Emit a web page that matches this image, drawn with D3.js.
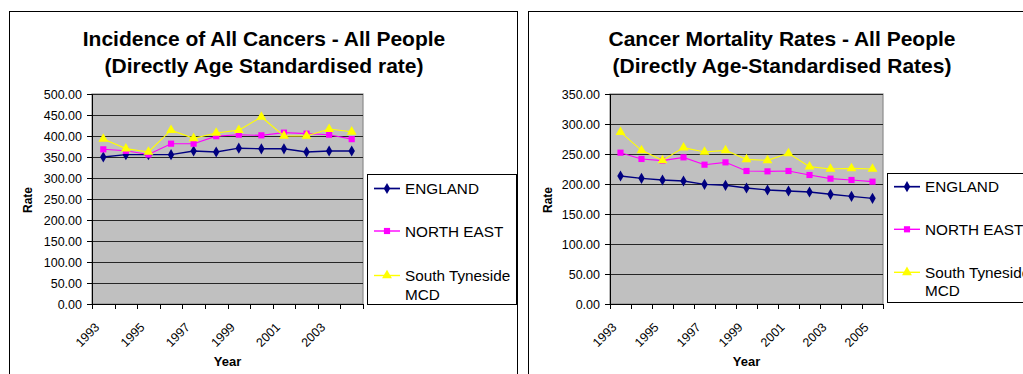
<!DOCTYPE html>
<html>
<head>
<meta charset="utf-8">
<script src="https://cdn.jsdelivr.net/npm/d3@7"></script>
<style>
  html, body { margin: 0; padding: 0; background: #fff; }
  svg { display: block; font-family: "Liberation Sans", Arial, sans-serif; }
</style>
</head>
<body>
<svg id="chart" width="1023" height="374"></svg>
<script>
// Incidence of all cancers, directly age-standardised rate
const incidenceYears = [1993, 1994, 1995, 1996, 1997, 1998, 1999, 2000, 2001, 2002, 2003, 2004];
const incidenceEngland = [350.0, 355.6, 355.6, 355.6, 364.3, 361.9, 371.0, 369.5, 369.5, 361.9, 364.3, 364.3];
const incidenceNorthEast = [368.3, 364.7, 356.0, 381.7, 381.7, 399.6, 403.1, 401.6, 408.0, 405.6, 403.1, 392.5];
const incidenceSouthTyneside = [393.0, 370.0, 362.0, 414.0, 394.5, 407.1, 414.0, 445.2, 400.0, 400.0, 416.5, 410.0];
const incidenceTicks = [0, 50, 100, 150, 200, 250, 300, 350, 400, 450, 500];
const incidenceYearLabels = [1993, 1995, 1997, 1999, 2001, 2003];

// Cancer mortality, directly age-standardised rates
const mortalityYears = [1993, 1994, 1995, 1996, 1997, 1998, 1999, 2000, 2001, 2002, 2003, 2004, 2005];
const mortalityEngland = [213.3, 209.4, 206.7, 205.0, 199.4, 197.8, 193.3, 190.0, 188.3, 186.7, 182.8, 179.4, 176.1];
const mortalityNorthEast = [252.2, 241.7, 238.9, 244.4, 232.2, 236.1, 221.7, 221.1, 221.7, 215.0, 208.9, 206.7, 203.9];
const mortalitySouthTyneside = [286.4, 256.1, 239.4, 260.6, 253.3, 256.1, 241.1, 239.4, 251.1, 228.9, 225.0, 226.1, 225.0];
const mortalityTicks = [0, 50, 100, 150, 200, 250, 300, 350];
const mortalityYearLabels = [1993, 1995, 1997, 1999, 2001, 2003, 2005];

const seriesNames = ["ENGLAND", "NORTH EAST", "South Tyneside MCD"];

const svg = d3.select("#chart");

const seriesStyle = [
  { color: "#000080", width: 1.4, symbol: d3.symbolDiamond, size: 36 },
  { color: "#FF00FF", width: 1.1, symbol: d3.symbolSquare, size: 38 },
  { color: "#FFFF00", width: 1.1, symbol: d3.symbolTriangle, size: 42 }
];

function drawChart(cfg) {
  const g = svg.append("g");

  // outer chart frame
  g.append("rect")
    .attr("x", cfg.frame.x + 0.5).attr("y", cfg.frame.y + 0.5)
    .attr("width", cfg.frame.w).attr("height", cfg.frame.h)
    .attr("fill", "#fff").attr("stroke", "#000").attr("stroke-width", 1);

  // title
  const title = g.append("text")
    .attr("text-anchor", "middle")
    .attr("font-size", "21px").attr("font-weight", "bold").attr("fill", "#000");
  cfg.title.forEach((line, i) => {
    title.append("tspan").attr("x", cfg.titleX).attr("y", 46 + i * 26.7).text(line);
  });

  const x = d3.scaleBand().domain(cfg.years).range([cfg.plot.left, cfg.plot.right]);
  const y = d3.scaleLinear().domain([0, cfg.yMax]).range([cfg.plot.bottom, cfg.plot.top]);

  // plot background
  g.append("rect")
    .attr("x", cfg.plot.left).attr("y", cfg.plot.top)
    .attr("width", cfg.plot.right - cfg.plot.left)
    .attr("height", cfg.plot.bottom - cfg.plot.top)
    .attr("fill", "#C0C0C0").attr("stroke", "#8c8c8c").attr("stroke-width", 1.2);

  // horizontal gridlines
  g.append("g").selectAll("line")
    .data(cfg.ticks.filter(t => t > 0))
    .join("line")
    .attr("x1", cfg.plot.left).attr("x2", cfg.plot.right)
    .attr("y1", d => Math.round(y(d)) + 0.5).attr("y2", d => Math.round(y(d)) + 0.5)
    .attr("stroke", "#262626").attr("stroke-width", 1.2);

  // y axis
  const yAxis = g.append("g")
    .attr("transform", `translate(${cfg.plot.left},0)`)
    .call(d3.axisLeft(y).tickValues(cfg.ticks).tickFormat(d3.format(".2f")).tickSize(5).tickPadding(5));
  yAxis.select(".domain").attr("stroke", "#000");
  yAxis.selectAll(".tick line").attr("stroke", "#000");
  yAxis.selectAll("text").attr("font-size", "12.5px").attr("fill", "#000")
    .attr("font-family", "'Liberation Sans', Arial, sans-serif");

  // x axis: line, boundary ticks between categories, rotated labels
  const xAxis = g.append("g")
    .attr("transform", `translate(0,${cfg.plot.bottom})`)
    .call(d3.axisBottom(x).tickValues(cfg.yearLabels).tickSize(0).tickPadding(0));
  xAxis.select(".domain").attr("stroke", "#000").attr("stroke-width", 1.2);
  xAxis.selectAll("text")
    .attr("font-size", "12.5px").attr("fill", "#000")
    .attr("font-family", "'Liberation Sans', Arial, sans-serif")
    .attr("text-anchor", "end")
    .attr("dy", 0)
    .attr("transform", `translate(-3,24) rotate(-45)`);

  const boundaries = cfg.years.map(d => x(d)).concat([cfg.plot.right]);
  g.append("g").selectAll("line")
    .data(boundaries)
    .join("line")
    .attr("x1", d => Math.round(d) + 0.5).attr("x2", d => Math.round(d) + 0.5)
    .attr("y1", cfg.plot.bottom).attr("y2", cfg.plot.bottom + 5)
    .attr("stroke", "#000");

  // axis titles
  g.append("text")
    .attr("transform", `translate(${cfg.rateX},200) rotate(-90)`)
    .attr("text-anchor", "middle").attr("dy", "0.35em")
    .attr("font-size", "12px").attr("font-weight", "bold")
    .text("Rate");
  g.append("text")
    .attr("x", (cfg.plot.left + cfg.plot.right) / 2).attr("y", 366)
    .attr("text-anchor", "middle")
    .attr("font-size", "13px").attr("font-weight", "bold")
    .text("Year");

  // series lines and markers
  const cx = d => x(d) + x.bandwidth() / 2;
  cfg.series.forEach((values, i) => {
    const st = seriesStyle[i];
    const pts = cfg.years.map((yr, j) => [cx(yr), y(values[j])]);
    g.append("path")
      .attr("d", d3.line()(pts))
      .attr("fill", "none").attr("stroke", st.color).attr("stroke-width", st.width);
    g.append("g").selectAll("path")
      .data(pts)
      .join("path")
      .attr("transform", d => `translate(${d[0]},${d[1]})`)
      .attr("d", d3.symbol().type(st.symbol).size(st.size))
      .attr("fill", st.color);
  });

  // legend
  const L = cfg.legend;
  g.append("rect")
    .attr("x", L.x + 0.5).attr("y", L.y + 0.5)
    .attr("width", L.w).attr("height", L.h)
    .attr("fill", "#fff").attr("stroke", "#000").attr("stroke-width", 1);
  seriesNames.forEach((name, i) => {
    const st = seriesStyle[i];
    const ly = L.rows[i];
    g.append("line")
      .attr("x1", L.x + 7).attr("x2", L.x + 33)
      .attr("y1", ly).attr("y2", ly)
      .attr("stroke", st.color).attr("stroke-width", st.width + 0.3);
    g.append("path")
      .attr("transform", `translate(${L.x + 20},${ly})`)
      .attr("d", d3.symbol().type(st.symbol).size(st.size))
      .attr("fill", st.color);
    const words = name === "South Tyneside MCD" ? ["South Tyneside", "MCD"] : [name];
    const t = g.append("text")
      .attr("font-size", "15.3px").attr("fill", "#000");
    words.forEach((w, k) => {
      t.append("tspan").attr("x", L.x + 38).attr("y", ly + 5.5 + k * 18.5).text(w);
    });
  });
}

drawChart({
  frame: { x: 9, y: 11, w: 508, h: 380 },
  titleX: 264,
  title: ["Incidence of All Cancers - All People", "(Directly Age Standardised rate)"],
  years: incidenceYears,
  series: [incidenceEngland, incidenceNorthEast, incidenceSouthTyneside],
  ticks: incidenceTicks,
  yearLabels: incidenceYearLabels,
  yMax: 500,
  plot: { left: 92, right: 363, top: 94, bottom: 304 },
  rateX: 28,
  legend: { x: 367, y: 174, w: 149, h: 130, rows: [188.5, 231, 275.5] }
});

drawChart({
  frame: { x: 528, y: 11, w: 508, h: 380 },
  titleX: 782,
  title: ["Cancer Mortality Rates - All People", "(Directly Age-Standardised Rates)"],
  years: mortalityYears,
  series: [mortalityEngland, mortalityNorthEast, mortalitySouthTyneside],
  ticks: mortalityTicks,
  yearLabels: mortalityYearLabels,
  yMax: 350,
  plot: { left: 610, right: 883, top: 94, bottom: 304 },
  rateX: 547.5,
  legend: { x: 887, y: 173, w: 150, h: 129, rows: [186.7, 229.3, 272.3] }
});
</script>
</body>
</html>
